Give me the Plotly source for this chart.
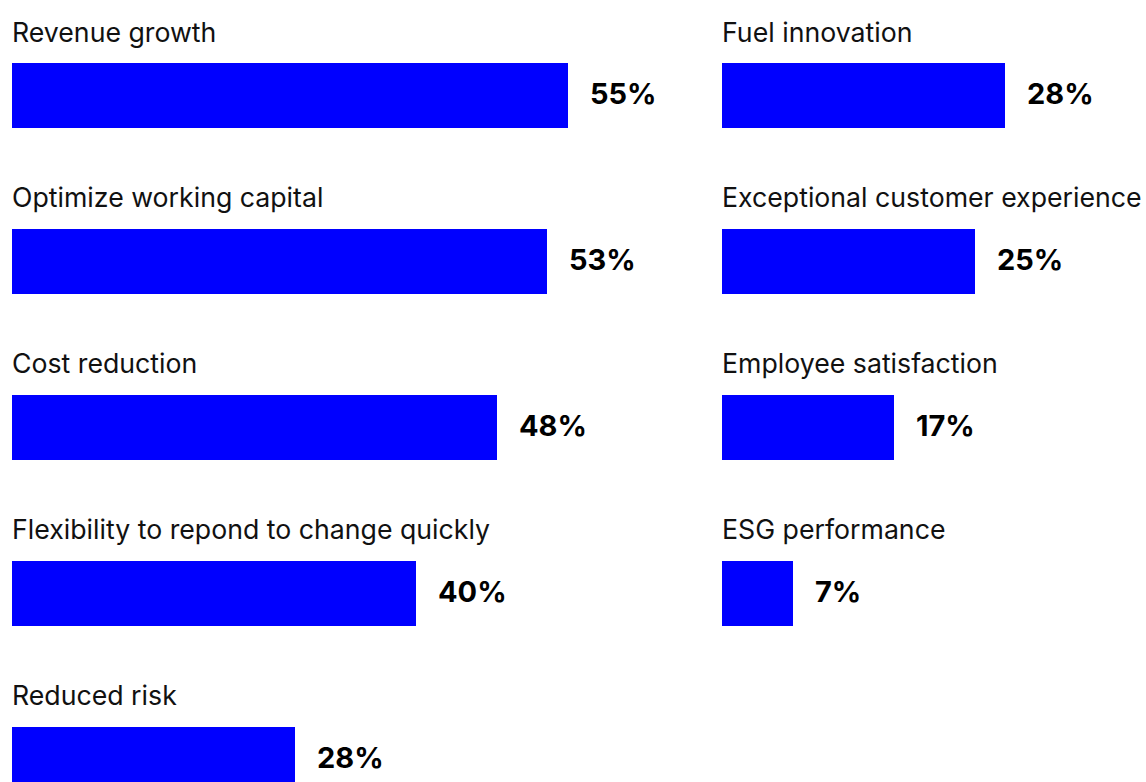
import plotly.graph_objects as go

# Left column: business outcomes
left_categories = [
    "Revenue growth",
    "Optimize working capital",
    "Cost reduction",
    "Flexibility to repond to change quickly",
    "Reduced risk",
]
left_values = [55, 53, 48, 40, 28]

# Right column: other outcomes
right_categories = [
    "Fuel innovation",
    "Exceptional customer experience",
    "Employee satisfaction",
    "ESG performance",
]
right_values = [28, 25, 17, 7]

W, H = 1146, 782
BAR_COLOR = "#0000FF"
LABEL_FONT = dict(family="Inter, Lato, sans-serif", size=26.7, color="#111111")
VALUE_FONT = dict(family="Inter, Lato, sans-serif", size=29, color="#000000", weight=700)

PX_PER_PCT = 10.1
ROW_PX = 165.9
FIRST_CENTER = 95.5
BAR_PX = 65

left_x0, left_x1 = 12, 612
right_x0, right_x1 = 722, 1146

y_top = -FIRST_CENTER / ROW_PX
y_bottom = (H - FIRST_CENTER) / ROW_PX
bar_width = BAR_PX / ROW_PX

fig = go.Figure()

fig.add_trace(go.Bar(
    x=left_values, y=list(range(len(left_categories))), orientation="h",
    marker=dict(color=BAR_COLOR, line=dict(width=0)), width=bar_width,
    xaxis="x", yaxis="y", hoverinfo="skip", showlegend=False,
))
fig.add_trace(go.Bar(
    x=right_values, y=list(range(len(right_categories))), orientation="h",
    marker=dict(color=BAR_COLOR, line=dict(width=0)), width=bar_width,
    xaxis="x2", yaxis="y2", hoverinfo="skip", showlegend=False,
))

annotations = []
for axis, cats, vals in (("", left_categories, left_values), ("2", right_categories, right_values)):
    for i, (c, v) in enumerate(zip(cats, vals)):
        annotations.append(dict(
            xref="x" + axis, yref="y" + axis, x=0, y=i, text=c,
            xanchor="left", yanchor="middle", yshift=64, showarrow=False,
            font=LABEL_FONT, xshift=-2,
        ))
        annotations.append(dict(
            xref="x" + axis, yref="y" + axis, x=v, y=i, text=f"{v}%",
            xanchor="left", yanchor="middle", xshift=20, yshift=2, showarrow=False,
            font=VALUE_FONT,
        ))

axis_common = dict(showgrid=False, zeroline=False, showticklabels=False, showline=False, ticks="")

fig.update_layout(
    width=W, height=H,
    margin=dict(l=0, r=0, t=0, b=0),
    paper_bgcolor="white", plot_bgcolor="white",
    xaxis=dict(domain=[left_x0 / W, left_x1 / W],
               range=[0, (left_x1 - left_x0) / PX_PER_PCT], **axis_common),
    xaxis2=dict(domain=[right_x0 / W, right_x1 / W],
                range=[0, (right_x1 - right_x0) / PX_PER_PCT], **axis_common),
    yaxis=dict(domain=[0, 1], range=[y_bottom, y_top], anchor="x", **axis_common),
    yaxis2=dict(domain=[0, 1], range=[y_bottom, y_top], anchor="x2", **axis_common),
    annotations=annotations,
    bargap=0,
)

fig.write_html("out.html")
